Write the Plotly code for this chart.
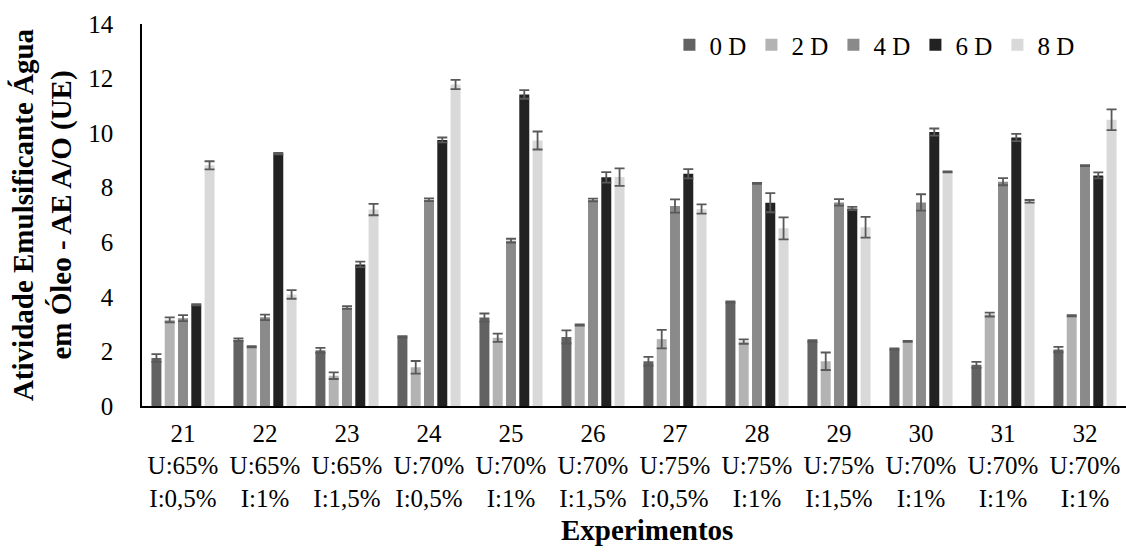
import plotly.graph_objects as go

categories = ["21", "22", "23", "24", "25", "26", "27", "28", "29", "30", "31", "32"]
u_labels = ["U:65%", "U:65%", "U:65%", "U:70%", "U:70%", "U:70%", "U:75%", "U:75%", "U:75%", "U:70%", "U:70%", "U:70%"]
i_labels = ["I:0,5%", "I:1%", "I:1,5%", "I:0,5%", "I:1%", "I:1,5%", "I:0,5%", "I:1%", "I:1,5%", "I:1%", "I:1%", "I:1%"]

series_names = ["0 D", "2 D", "4 D", "6 D", "8 D"]
d0 = [1.76, 2.43, 2.04, 2.54, 3.24, 2.53, 1.64, 3.81, 2.38, 2.09, 1.51, 2.07]
e0 = [0.14, 0.05, 0.09, 0.02, 0.15, 0.24, 0.16, 0.02, 0.03, 0.02, 0.11, 0.10]
d2 = [3.16, 2.17, 1.11, 1.42, 2.50, 2.97, 2.45, 2.36, 1.64, 2.37, 3.35, 3.31]
e2 = [0.09, 0.02, 0.12, 0.23, 0.15, 0.02, 0.34, 0.08, 0.32, 0.02, 0.07, 0.02]
d4 = [3.22, 3.25, 3.61, 7.56, 6.06, 7.55, 7.33, 8.16, 7.46, 7.46, 8.22, 8.81]
e4 = [0.11, 0.10, 0.05, 0.05, 0.07, 0.05, 0.24, 0.02, 0.12, 0.30, 0.13, 0.02]
d6 = [3.71, 9.25, 5.19, 9.75, 11.42, 8.38, 8.51, 7.45, 7.24, 10.04, 9.84, 8.45]
e6 = [0.02, 0.03, 0.10, 0.09, 0.16, 0.19, 0.17, 0.35, 0.06, 0.13, 0.13, 0.11]
d8 = [8.82, 4.09, 7.20, 11.78, 9.73, 8.39, 7.22, 6.51, 6.55, 8.58, 7.50, 10.49]
e8 = [0.15, 0.16, 0.21, 0.17, 0.33, 0.32, 0.17, 0.40, 0.38, 0.02, 0.05, 0.38]

y_ticks = [0, 2, 4, 6, 8, 10, 12, 14]

colors = ["#626262", "#b3b3b3", "#8a8a8a", "#222222", "#d9d9d9"]
values = [d0, d2, d4, d6, d8]
errors = [e0, e2, e4, e6, e8]

FONT = "Liberation Serif, Times New Roman, serif"

fig = go.Figure()
for name, vals, errs, col in zip(series_names, values, errors, colors):
    fig.add_trace(go.Bar(
        name=name, x=categories, y=vals, marker=dict(color=col, line=dict(width=0)),
        error_y=dict(type="data", array=errs, visible=True, color="#595959", thickness=1.8, width=5),
    ))

ticktext = [f"{c}<br>{u}<br>{i}" for c, u, i in zip(categories, u_labels, i_labels)]

fig.update_layout(
    width=1126, height=552,
    margin=dict(l=142, r=0, t=24, b=146, autoexpand=False),
    paper_bgcolor="white", plot_bgcolor="white",
    barmode="group", bargap=0.19, bargroupgap=0.25,
    font=dict(family=FONT, color="black", size=24),
    showlegend=True,
    legend=dict(orientation="h", x=0.536, y=0.945, xanchor="left", yanchor="middle",
                font=dict(family=FONT, size=25, color="black"), bgcolor="rgba(0,0,0,0)",
                itemwidth=30, entrywidth=37, entrywidthmode="pixels", tracegroupgap=0),
    xaxis=dict(
        tickmode="array", tickvals=categories, ticktext=ticktext, automargin=False,
        showline=True, linecolor="black", linewidth=1.5, showgrid=False,
        ticks="", tickfont=dict(family=FONT, size=25, color="black"),
        ticklabelstandoff=4,
    ),
    yaxis=dict(
        range=[0, 14], tickvals=y_ticks, showline=True, linecolor="black", linewidth=1.5,
        showgrid=False, zeroline=False, ticks="", ticklabelstandoff=22, automargin=False,
        tickfont=dict(family=FONT, size=25, color="black"),
        title=dict(text="<b>Atividade Emulsificante Água<br>em Óleo - AE A/O (UE)</b>",
                   font=dict(family=FONT, size=29, color="black"), standoff=8),
    ),
    annotations=[dict(text="<b>Experimentos</b>", xref="paper", yref="paper", x=0.513, y=0,
                      yshift=-124, xanchor="center", yanchor="middle", showarrow=False,
                      font=dict(family=FONT, size=29, color="black"))],
)

fig.write_html("out.html", config={"displayModeBar": False},
               post_script="document.body.style.margin='0';")
